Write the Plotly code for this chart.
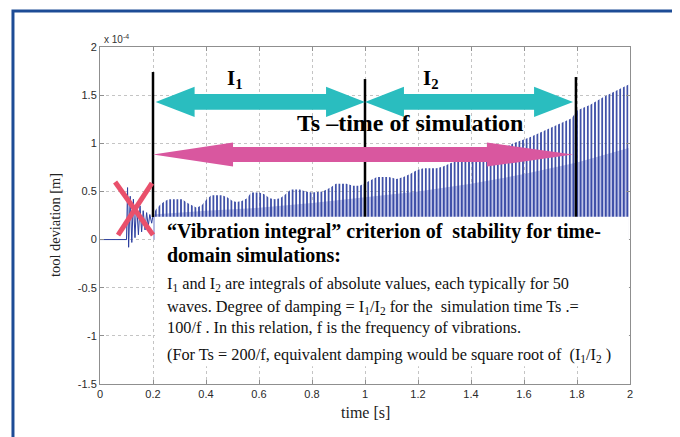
import plotly.graph_objects as go

# ---------------- data (tool deviation in units of 1e-4 m) ----------------
early_t = [0.0, 0.100, 0.104, 0.108, 0.114, 0.120, 0.126, 0.132, 0.138, 0.145,
           0.151, 0.157, 0.163, 0.170, 0.176, 0.182, 0.188, 0.195, 0.200]
early_v = [0.0, 0.0, 0.54, -0.08, 0.45, -0.03, 0.42, 0.02, 0.38, 0.05,
           0.35, 0.08, 0.30, 0.10, 0.28, 0.14, 0.26, 0.17, 0.25]

env_t = [0.200, 0.210, 0.226, 0.245, 0.26, 0.31, 0.33, 0.35, 0.365, 0.385,
         0.40, 0.42, 0.46, 0.48, 0.50, 0.515, 0.535, 0.555, 0.57, 0.60,
         0.62, 0.64, 0.66, 0.68, 0.70, 0.72, 0.755, 0.775, 0.80, 0.84,
         0.87, 0.89, 0.93, 0.955, 0.98, 1.01, 1.045, 1.09, 1.12, 1.145,
         1.17, 1.195, 1.22, 1.27, 1.295, 1.32, 1.35, 1.42, 1.46, 1.52,
         1.56, 1.62, 1.66, 1.72, 1.78, 1.80, 1.85, 1.90, 1.95, 1.995]
env_hi = [0.25, 0.31, 0.36, 0.40, 0.42, 0.42, 0.38, 0.35, 0.33, 0.36,
          0.41, 0.46, 0.46, 0.44, 0.40, 0.39, 0.40, 0.43, 0.49, 0.49,
          0.47, 0.43, 0.42, 0.43, 0.47, 0.52, 0.52, 0.50, 0.49, 0.50,
          0.54, 0.58, 0.58, 0.56, 0.56, 0.60, 0.65, 0.65, 0.63, 0.65,
          0.68, 0.72, 0.74, 0.74, 0.76, 0.79, 0.82, 0.82, 0.87, 0.95,
          1.00, 1.06, 1.11, 1.18, 1.26, 1.34, 1.40, 1.48, 1.55, 1.61]

mid_t = [0.2, 0.4, 0.6, 0.8, 1.0, 1.2, 1.4, 1.6, 1.8, 1.995]
mid_v = [0.26, 0.30, 0.33, 0.38, 0.44, 0.50, 0.58, 0.68, 0.80, 0.95]

x_ticks = [0, 0.2, 0.4, 0.6, 0.8, 1, 1.2, 1.4, 1.6, 1.8, 2]
x_tick_labels = ["0", "0.2", "0.4", "0.6", "0.8", "1", "1.2", "1.4", "1.6", "1.8", "2"]
y_ticks = [-1.5, -1, -0.5, 0, 0.5, 1, 1.5, 2]
y_tick_labels = ["-1.5", "-1", "-0.5", "0", "0.5", "1", "1.5", "2"]

# annotation geometry (data units)
markers_t = [0.2, 1.0, 1.796]
markers_top = [1.74, 1.667, 1.688]
marker_bottom = 0.234
cyan_arrows = [(0.21, 1.0), (1.0, 1.785)]
cyan_y = 1.43
mag_arrow = (0.2, 1.785)
mag_y = 0.883

BLUE = "#2b3e9f"
SERIF = "Liberation Serif, Times New Roman, serif"
SANS = "Liberation Sans, Arial, sans-serif"

fig = go.Figure()

# lavender underlay
fig.add_trace(go.Scatter(x=mid_t, y=mid_v, mode="lines", line=dict(width=0),
                         fill="tozeroy", fillcolor="#bdc2e6", hoverinfo="skip",
                         showlegend=False))
# dense oscillation (vertical stripes)
fig.add_trace(go.Scatter(x=env_t, y=env_hi, mode="lines", line=dict(width=0),
                         fill="tozeroy", fillcolor="rgba(255,255,255,0)",
                         fillpattern=dict(shape="|", size=3.6, solidity=0.45,
                                          fgcolor=BLUE, bgcolor="rgba(255,255,255,0)",
                                          fgopacity=1),
                         hoverinfo="skip", showlegend=False))
# early transient
fig.add_trace(go.Scatter(x=early_t, y=early_v, mode="lines",
                         line=dict(color=BLUE, width=1), hoverinfo="skip",
                         showlegend=False))

shapes = []
# black interval markers
for t, top in zip(markers_t, markers_top):
    shapes.append(dict(type="line", xref="x", yref="y", x0=t, x1=t, y0=marker_bottom,
                       y1=top, line=dict(color="black", width=2.5), layer="above"))

# white text box
shapes.append(dict(type="rect", xref="x", yref="y", x0=0.2075, x1=1.996, y0=-1.315,
                   y1=0.238, fillcolor="white", line=dict(width=0), layer="above"))


def dbl_arrow(x0, x1, y, hl0, hl1, hh, sh):
    pts = [(x0, y), (x0 + hl0, y + hh), (x0 + hl0, y + sh), (x1 - hl1, y + sh),
           (x1 - hl1, y + hh), (x1, y), (x1 - hl1, y - hh), (x1 - hl1, y - sh),
           (x0 + hl0, y - sh), (x0 + hl0, y - hh)]
    return "M " + " L ".join(f"{a:.4f},{b:.4f}" for a, b in pts) + " Z"


for a0, a1 in cyan_arrows:
    shapes.append(dict(type="path", xref="x", yref="y",
                       path=dbl_arrow(a0, a1, cyan_y, 0.147, 0.147, 0.156, 0.081),
                       fillcolor="#2abdbf", line=dict(width=0), layer="above"))
shapes.append(dict(type="path", xref="x", yref="y",
                   path=dbl_arrow(mag_arrow[0], mag_arrow[1], mag_y, 0.302, 0.325, 0.125, 0.078),
                   fillcolor="#d9579f", line=dict(width=0), layer="above"))

# red cross
shapes.append(dict(type="line", xref="x", yref="y", x0=0.057, y0=0.598, x1=0.2, y1=0.047,
                   line=dict(color="#e9506b", width=5), layer="above"))
shapes.append(dict(type="line", xref="x", yref="y", x0=0.196, y0=0.587, x1=0.068, y1=0.047,
                   line=dict(color="#e9506b", width=5), layer="above"))

# outer frame
shapes.append(dict(type="rect", xref="paper", yref="paper", x0=-0.1642, x1=1.0849,
                   y0=-0.20, y1=1.1068, line=dict(color="#1d4c96", width=3),
                   fillcolor="rgba(0,0,0,0)", layer="above"))

ann = []
ann.append(dict(x=0.51, y=1.667, xref="x", yref="y", text="<b>I<sub>1</sub></b>", showarrow=False,
                font=dict(family=SERIF, size=21, color="black"), xanchor="center", yanchor="middle"))
ann.append(dict(x=1.25, y=1.667, xref="x", yref="y", text="<b>I<sub>2</sub></b>", showarrow=False,
                font=dict(family=SERIF, size=21, color="black"), xanchor="center", yanchor="middle"))
ann.append(dict(x=1.17, y=1.21, xref="x", yref="y", text="<b>Ts \u2013time of simulation</b>",
                showarrow=False, font=dict(family=SERIF, size=24, color="black"),
                xanchor="center", yanchor="middle"))

box_x = 0.245
bold_lines = [("<b>\u201cVibration integral\u201d criterion of  stability for time-</b>", 0.079),
              ("<b>domain simulations:</b>", -0.16)]
for txt, yy in bold_lines:
    ann.append(dict(x=box_x, y=yy, xref="x", yref="y", text=txt, showarrow=False,
                    font=dict(family=SERIF, size=20, color="black"),
                    xanchor="left", yanchor="middle"))
reg_lines = [("I<sub>1</sub> and I<sub>2</sub> are integrals of absolute values, each typically for 50", -0.461),
             ("waves. Degree of damping = I<sub>1</sub>/I<sub>2</sub> for the  simulation time Ts .=", -0.70),
             ("100/f . In this relation, f is the frequency of vibrations.", -0.908),
             ("(For Ts = 200/f, equivalent damping would be square root of  (I<sub>1</sub>/I<sub>2</sub> )", -1.199)]
for txt, yy in reg_lines:
    ann.append(dict(x=box_x, y=yy, xref="x", yref="y", text=txt, showarrow=False,
                    font=dict(family=SERIF, size=16.3, color="#111111"),
                    xanchor="left", yanchor="middle"))

# axis titles and exponent
ann.append(dict(x=-0.0849, y=0.472, xref="paper", yref="paper", text="tool deviation [m]",
                textangle=-90, showarrow=False, font=dict(family=SERIF, size=14.4, color="#222222"),
                xanchor="center", yanchor="middle"))
ann.append(dict(x=0.5, y=-0.086, xref="paper", yref="paper", text="time [s]",
                showarrow=False, font=dict(family=SERIF, size=16, color="#222222"),
                xanchor="center", yanchor="middle"))
ann.append(dict(x=0.004, y=1.0, xref="paper", yref="paper", text="x 10<sup>-4</sup>",
                showarrow=False, font=dict(family=SANS, size=10, color="#333333"),
                xanchor="left", yanchor="bottom"))

axis_common = dict(showline=True, linecolor="#8f8f8f", linewidth=1, mirror="ticks",
                   ticks="inside", ticklen=4, tickcolor="#8f8f8f", showgrid=True,
                   gridcolor="#c4c4c4", griddash="dot", gridwidth=1, zeroline=False,
                   tickfont=dict(family=SANS, size=11, color="#2a2a2a"))

# the page body adds an 8px offset, so the figure is sized/margined to compensate
fig.update_layout(
    width=672, height=429,
    margin=dict(l=92, r=50, t=39, b=53),
    paper_bgcolor="white", plot_bgcolor="white",
    shapes=shapes, annotations=ann, showlegend=False,
    xaxis=dict(range=[0, 2], tickvals=x_ticks, ticktext=x_tick_labels, **axis_common),
    yaxis=dict(range=[-1.5, 2], tickvals=y_ticks, ticktext=y_tick_labels, **axis_common),
)

fig.write_html("out.html")
